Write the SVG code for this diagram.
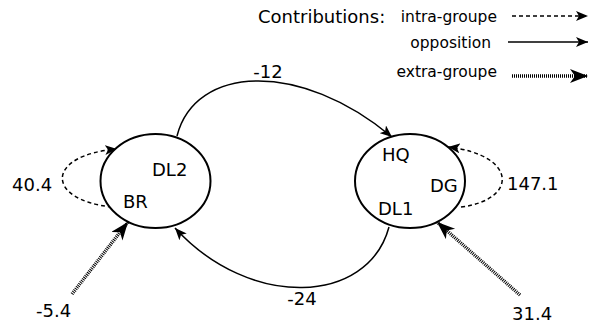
<svg xmlns="http://www.w3.org/2000/svg" width="589" height="329" viewBox="0 0 589 329">
<style>
text{font-family:"DejaVu Sans","Liberation Sans",sans-serif;fill:#000}
.lbl{font-size:18px}
.leg{font-size:15.5px}
.node{fill:#fff;stroke:#000;stroke-width:2}
.edge{fill:none;stroke:#000;stroke-width:1.5}
.intra{stroke-dasharray:4 3;marker-end:url(#ah)}
.opp{marker-end:url(#ah)}
.extra{stroke-width:3.5;stroke-dasharray:1 1;marker-end:url(#ahBig)}
</style>
<defs>
<marker id="ah" markerUnits="userSpaceOnUse" markerWidth="14" markerHeight="10" refX="12" refY="5" orient="auto">
<path d="M0,0 L12,5 L0,10 L3,5 z" fill="#000"/>
</marker>
<marker id="ahBig" markerUnits="userSpaceOnUse" markerWidth="20" markerHeight="16" refX="18" refY="7" orient="auto">
<path d="M0,0 L18,7 L0,14 L5,7 z" fill="#000"/>
</marker>
</defs>
<g id="legend">
<text class="lbl" x="258" y="23">Contributions:</text>
<text class="leg" x="497" y="22" text-anchor="end">intra-groupe</text>
<text class="leg" x="491" y="48" text-anchor="end">opposition</text>
<text class="leg" x="497" y="77" text-anchor="end">extra-groupe</text>
</g>
<g id="connectors">
<path class="edge intra" d="M512,16 L588,16"/>
<path class="edge opp" d="M508,42 L588,42"/>
<path class="edge extra" d="M512,76 L588,76"/>
<path class="edge opp" d="M177,136 C195,65 300,60 392,137"/>
<path class="edge opp" d="M389,227 C368,305 250,310 175,228"/>
<path class="edge intra" d="M112,207 C45,200 45,155 117,149"/>
<path class="edge intra" d="M461,207 C518,200 518,155 448,147"/>
<path class="edge extra" d="M72,294 L128,222"/>
<path class="edge extra" d="M520,295 L437,222"/>
<text class="lbl" x="268" y="78" text-anchor="middle">-12</text>
<text class="lbl" x="302" y="305" text-anchor="middle">-24</text>
<text class="lbl" x="12" y="191">40.4</text>
<text class="lbl" x="507" y="190">147.1</text>
<text class="lbl" x="36" y="317">-5.4</text>
<text class="lbl" x="512" y="320">31.4</text>
</g>
<g id="node-left">
<ellipse class="node" cx="155.5" cy="181" rx="55" ry="47"/>
<text class="lbl" x="152" y="176">DL2</text>
<text class="lbl" x="123" y="208">BR</text>
</g>
<g id="node-right">
<ellipse class="node" cx="410" cy="181" rx="55" ry="47"/>
<text class="lbl" x="382" y="161">HQ</text>
<text class="lbl" x="430" y="192">DG</text>
<text class="lbl" x="378" y="215">DL1</text>
</g>
</svg>
